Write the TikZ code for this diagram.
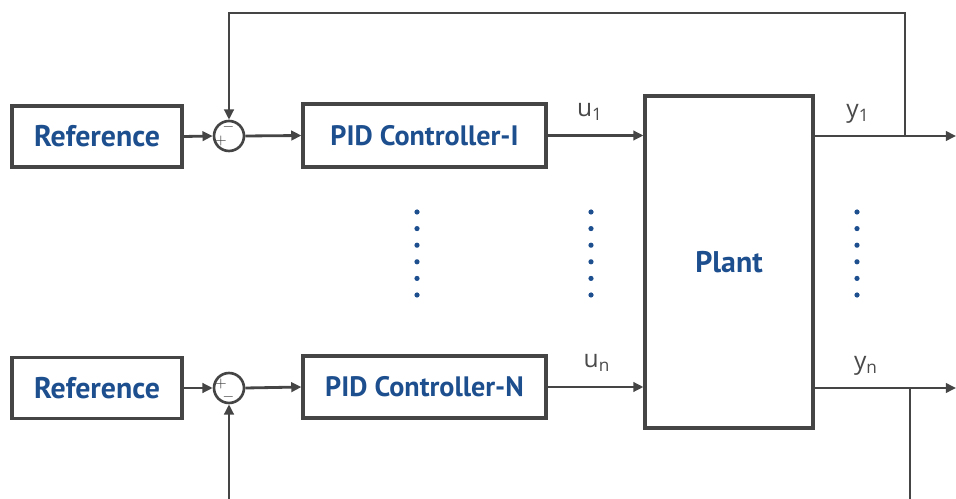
\documentclass[tikz,border=0pt]{standalone}
\usepackage{fontspec}
\setmainfont{PT Sans}
\newfontfamily\labelfont{Open Sans}
\usetikzlibrary{arrows.meta,calc,shadows}
\definecolor{txtblue}{HTML}{1D4F8F}
\definecolor{linegray}{HTML}{454545}
\definecolor{lblgray}{HTML}{4A4A4A}
\tikzset{
  blk/.style={draw=linegray,line width=1.8pt,fill=white,font=\bfseries\fontsize{17}{20}\selectfont,text=txtblue,inner sep=0pt,
    drop shadow={shadow xshift=0.5pt,shadow yshift=-1pt,opacity=0.25}},
  sumj/.style={draw=linegray,line width=1.5pt,circle,minimum size=0.6cm,inner sep=0pt,fill=white},
  conn/.style={draw=linegray,line width=1.6pt},
  arr/.style={conn,-{Triangle[length=5.8pt,width=5.4pt]}},
  sig/.style={text=lblgray,font=\labelfont\fontsize{14}{16}\selectfont,inner sep=0pt},
  sgn/.style={text=linegray,font=\fontsize{8}{9}\selectfont,inner sep=0pt},
  dotc/.style={fill=txtblue,draw=none}
}
\begin{document}
\begin{tikzpicture}[x=0.02cm,y=-0.02cm]
\useasboundingbox (0,0) rectangle (956,499);
\clip (0,0) rectangle (956,499);
% blocks
\node[blk,minimum width=3.4cm,minimum height=1.22cm] (ref1) at (97,136.5) {Reference};
\node[blk,minimum width=3.4cm,minimum height=1.22cm] (refn) at (97,388) {Reference};
\node[blk,minimum width=4.86cm,minimum height=1.26cm] (pid1) at (424.5,135.5) {\fontsize{16}{19}\selectfont PID Controller-I};
\node[blk,minimum width=4.86cm,minimum height=1.24cm] (pidn) at (424.5,387) {\fontsize{16}{19}\selectfont PID Controller-N};
\node[blk,minimum width=3.36cm,minimum height=6.64cm] (plant) at (729,262) {Plant};
% summing junctions
\node[sumj] (s1) at (229,136) {};
\node[sumj] (sn) at (229,388) {};
\node[sgn] (s1m) at (228.5,127) {$-$};
\node[sgn] (s1p) at (221,141) {$+$};
\node[sgn] (snp) at (221,384) {$+$};
\node[sgn] (snm) at (228.5,397) {$-$};
% coordinates
\coordinate (o1) at (956,136);
\coordinate (on) at (956,388);
\coordinate (t1) at (905,136);
\coordinate (tn) at (910,388);
\coordinate (top1) at (905,13);
\coordinate (topl) at (229,13);
\coordinate (botn) at (910,505);
\coordinate (botl) at (229,505);
% forward paths
\draw[arr] (ref1.east) -- (s1.west);
\draw[arr] (refn.east) -- (sn.west);
\draw[arr] (s1.east) -- (pid1.west);
\draw[arr] (sn.east) -- (pidn.west);
\draw[arr] (pid1.east) -- (pid1.east -| plant.west);
\draw[arr] (pidn.east) -- (pidn.east -| plant.west);
\draw[arr] (plant.east |- o1) -- (o1);
\draw[arr] (plant.east |- on) -- (on);
% feedback
\draw[arr] (t1) -- (top1) -- (topl) -- (s1.north);
\draw[arr] (tn) -- (botn) -- (botl) -- (sn.south);
% labels
\node[sig] (u1) at (590,112) {u\textsubscript{1}};
\node[sig] (un) at (597,363) {u\textsubscript{n}};
\node[sig] (y1) at (858,114) {y\textsubscript{1}};
\node[sig] (yn) at (866,366) {y\textsubscript{n}};
% dots
\foreach \cx in {417,591,857}{
  \foreach \k in {0,...,5}{
    \fill[dotc] (\cx,{212+16.6*\k}) circle (2.6);
  }
}
\end{tikzpicture}
\end{document}
